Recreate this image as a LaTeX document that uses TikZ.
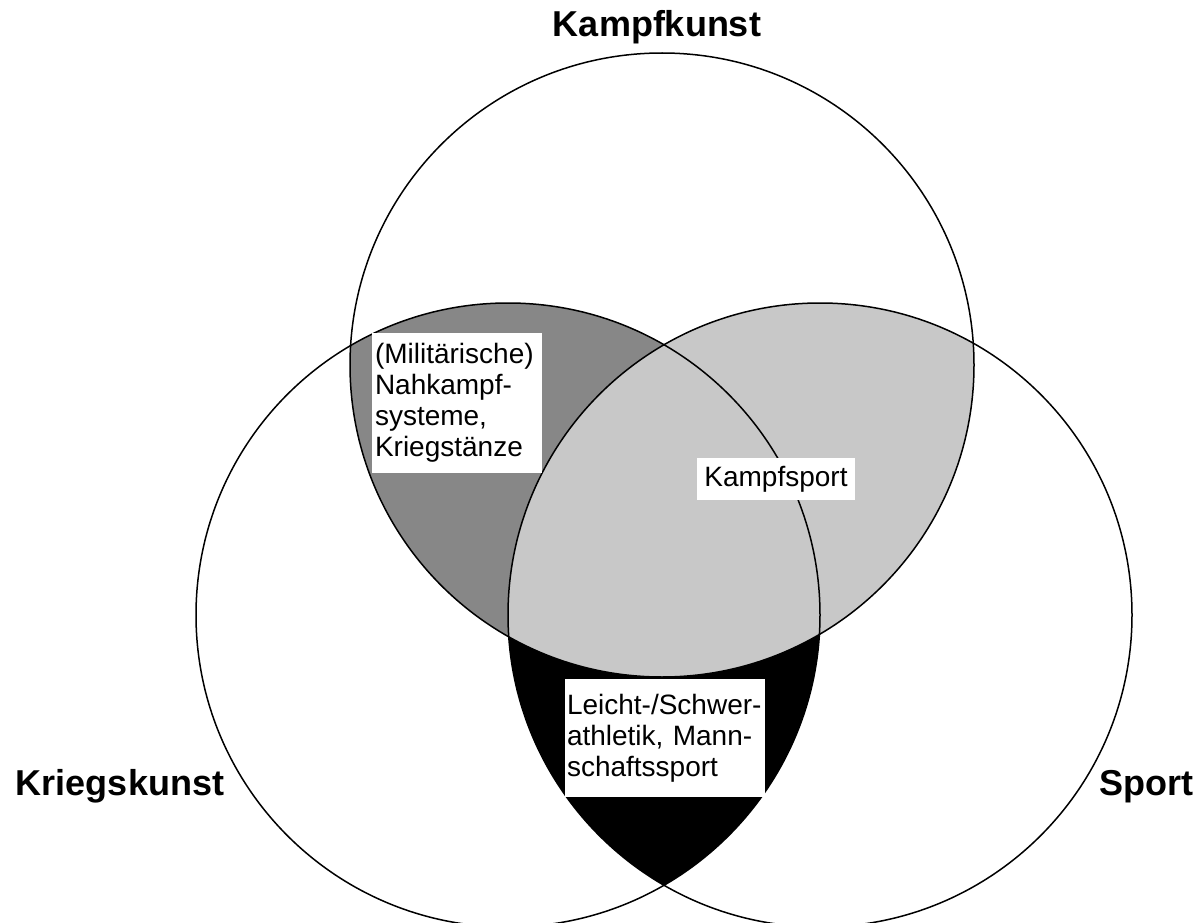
\documentclass[tikz,border=0pt]{standalone}
\usepackage{fontspec}
\setmainfont{Liberation Sans}
\definecolor{darkfill}{HTML}{878787}
\definecolor{lightfill}{HTML}{C8C8C8}
\tikzset{
  ring/.style={draw=black, line width=1.5pt},
  labelbox/.style={fill=white, inner xsep=3pt, inner ysep=0pt, align=left,
    font=\fontsize{28}{31}\selectfont},
  setlabel/.style={font=\fontsize{36}{40}\selectfont\bfseries, anchor=base},
}
\begin{document}
\begin{tikzpicture}[x=1pt,y=-1pt]
\useasboundingbox (0,0) rectangle (1203,923);
\fill[white] (0,0) rectangle (1203,923);
\coordinate (T) at (662,365);
\coordinate (L) at (508,615);
\coordinate (R) at (820,615);
\def\rr{312pt}
\begin{scope}
  \clip (L) circle[radius=\rr];
  \fill[black] (R) circle[radius=\rr];
\end{scope}
\begin{scope}
  \clip (T) circle[radius=\rr];
  \fill[darkfill] (L) circle[radius=\rr];
\end{scope}
\begin{scope}
  \clip (T) circle[radius=\rr];
  \fill[lightfill] (R) circle[radius=\rr];
\end{scope}
\draw[ring] (T) circle[radius=\rr];
\draw[ring] (L) circle[radius=\rr];
\draw[ring] (R) circle[radius=\rr];

\node[labelbox, text width=164pt, minimum height=140pt] (mil) at (457,403)
  {(Militärische)\\Nahkampf-\\systeme,\\Kriegstänze};
\node[labelbox, align=center, minimum width=158pt, minimum height=42pt] (ks) at (776,479)
  {Kampfsport};
\node[labelbox, inner xsep=2pt, text width=196pt, minimum height=118pt] (la) at (665,738)
  {Leicht-/Schwer-\\athletik, Mann-\\schaftssport};

\node[setlabel] (kk) at (657,37) {Kampfkunst};
\node[setlabel] (kr) at (120,795) {Kriegskunst};
\node[setlabel] (sp) at (1146,795) {Sport};
\end{tikzpicture}
\end{document}
